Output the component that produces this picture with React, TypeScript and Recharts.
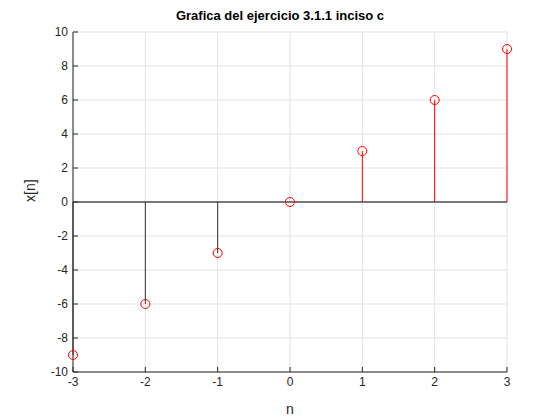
import React from "react";
import {
  ComposedChart,
  Scatter,
  XAxis,
  YAxis,
  CartesianGrid,
  ReferenceLine,
} from "recharts";

const nValues = [-3, -2, -1, 0, 1, 2, 3];
const xValues = [-9, -6, -3, 0, 3, 6, 9];
const xTicks = [-3, -2, -1, 0, 1, 2, 3];
const yTicks = [-10, -8, -6, -4, -2, 0, 2, 4, 6, 8, 10];

const points = nValues.map((n, i) => ({ n, x: xValues[i] }));

const Circle = (props: any) => (
  <circle cx={props.cx} cy={props.cy} r={4.5} fill="none" stroke="#ff0000" strokeWidth={1} />
);

const font = "Liberation Sans, Arial, sans-serif";
const tickStyle = { fontSize: 12, fill: "#262626", fontFamily: font };

const App: React.FC = () => {
  return (
    <div style={{ position: "absolute", left: 0, top: 0, width: 560, height: 420, background: "#fff" }}>
      <div
        style={{
          position: "absolute",
          top: 8,
          width: 560,
          textAlign: "center",
          fontFamily: font,
          fontWeight: "bold",
          fontSize: 13,
          color: "#000",
        }}
      >
        Grafica del ejercicio 3.1.1 inciso c
      </div>
      <ComposedChart
        width={560}
        height={420}
        data={points}
        margin={{ top: 32, right: 53, bottom: 0, left: 0 }}
        style={{ fontFamily: font }}
      >
        <CartesianGrid stroke="#e3e3e3" />
        <XAxis
          dataKey="n"
          type="number"
          domain={[-3, 3]}
          ticks={xTicks}
          height={48}
          tick={tickStyle}
          tickSize={-5}
          tickMargin={10}
          stroke="#262626"
          label={{ value: "n", position: "insideBottom", offset: 6, fontSize: 14, fill: "#262626", fontFamily: font }}
        />
        <XAxis xAxisId="top" type="number" domain={[-3, 3]} ticks={xTicks} orientation="top" height={0} tick={false} tickSize={-5} stroke="#262626" />
        <YAxis
          dataKey="x"
          type="number"
          domain={[-10, 10]}
          ticks={yTicks}
          width={73}
          tick={tickStyle}
          tickSize={-5}
          tickMargin={10}
          stroke="#262626"
          label={{ value: "x[n]", angle: -90, position: "insideLeft", offset: 30, fontSize: 14, fill: "#262626", fontFamily: font }}
        />
        <YAxis yAxisId="right" type="number" domain={[-10, 10]} ticks={yTicks} orientation="right" width={0} tick={false} tickSize={-5} stroke="#262626" />
        <ReferenceLine y={0} stroke="#000" strokeWidth={1} />
        {points.map((p) => (
          <ReferenceLine
            key={p.n}
            segment={[{ x: p.n, y: 0 }, { x: p.n, y: p.x }]}
            stroke={p.x > 0 ? "#ff0000" : "#333333"}
            strokeWidth={1}
          />
        ))}
        <Scatter data={points} dataKey="x" shape={<Circle />} isAnimationActive={false} />
      </ComposedChart>
    </div>
  );
};

export default App;
